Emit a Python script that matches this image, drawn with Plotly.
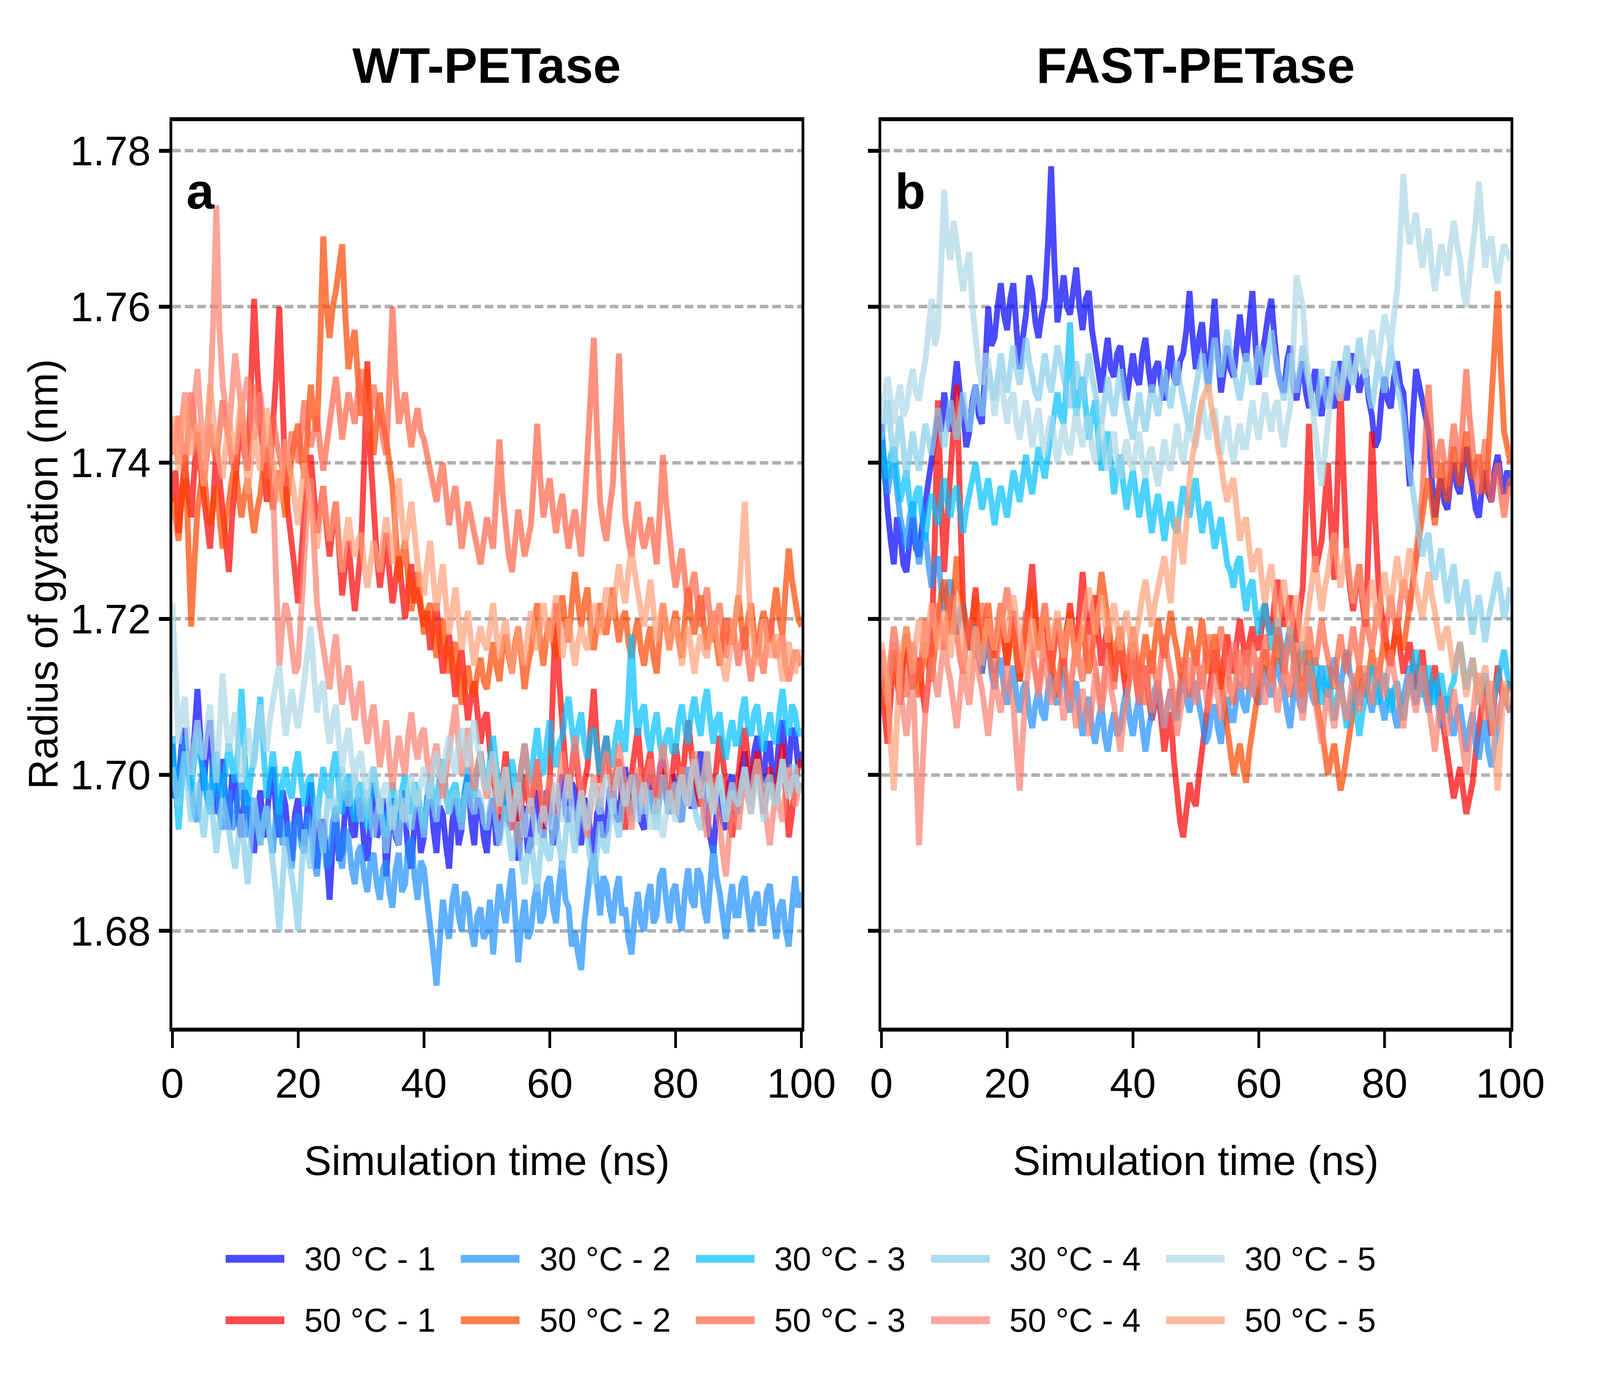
import math
import plotly.graph_objects as go

# Simulation time axis (ns), one sample every 0.5 ns
time_ns = [i * 0.5 for i in range(201)]

# WT-PETase, radius of gyration (nm)
wt_30_1 = [1.704, 1.697, 1.699, 1.704, 1.706, 1.700, 1.701, 1.705, 1.711, 1.703,
           1.698, 1.704, 1.707, 1.699, 1.695, 1.700, 1.702, 1.696, 1.693, 1.700,
           1.699, 1.694, 1.692, 1.698, 1.697, 1.693, 1.690, 1.695, 1.698, 1.692,
           1.694, 1.699, 1.701, 1.695, 1.692, 1.698, 1.696, 1.691, 1.689, 1.695,
           1.697, 1.692, 1.691, 1.696, 1.699, 1.693, 1.688, 1.694, 1.694, 1.690,
           1.684, 1.691, 1.695, 1.689, 1.690, 1.696, 1.698, 1.693, 1.692, 1.697,
           1.696, 1.691, 1.689, 1.694, 1.699, 1.692, 1.693, 1.697, 1.687, 1.693,
           1.697, 1.692, 1.691, 1.698, 1.695, 1.690, 1.688, 1.694, 1.696, 1.690,
           1.692, 1.697, 1.699, 1.693, 1.690, 1.696, 1.695, 1.691, 1.688, 1.694,
           1.697, 1.691, 1.693, 1.698, 1.700, 1.694, 1.691, 1.697, 1.696, 1.692,
           1.690, 1.695, 1.697, 1.691, 1.692, 1.697, 1.699, 1.694, 1.693, 1.697,
           1.689, 1.694, 1.696, 1.690, 1.691, 1.697, 1.698, 1.693, 1.692, 1.698,
           1.697, 1.691, 1.693, 1.698, 1.700, 1.695, 1.694, 1.699, 1.698, 1.693,
           1.691, 1.697, 1.696, 1.692, 1.690, 1.695, 1.697, 1.692, 1.693, 1.698,
           1.699, 1.695, 1.694, 1.699, 1.701, 1.696, 1.695, 1.700, 1.699, 1.694,
           1.693, 1.698, 1.700, 1.695, 1.696, 1.701, 1.702, 1.697, 1.695, 1.700,
           1.699, 1.695, 1.694, 1.699, 1.701, 1.696, 1.696, 1.701, 1.703, 1.697,
           1.695, 1.692, 1.690, 1.695, 1.698, 1.694, 1.693, 1.699, 1.700, 1.695,
           1.696, 1.701, 1.703, 1.699, 1.698, 1.703, 1.705, 1.700, 1.699, 1.704,
           1.704, 1.699, 1.700, 1.705, 1.707, 1.702, 1.701, 1.706, 1.705, 1.701,
           1.703]
wt_30_2 = [1.702, 1.698, 1.697, 1.703, 1.705, 1.700, 1.699, 1.695, 1.694, 1.699,
           1.701, 1.697, 1.696, 1.702, 1.700, 1.695, 1.693, 1.697, 1.698, 1.693,
           1.694, 1.698, 1.699, 1.695, 1.692, 1.696, 1.697, 1.693, 1.691, 1.695,
           1.696, 1.692, 1.690, 1.695, 1.697, 1.691, 1.692, 1.694, 1.688, 1.693,
           1.695, 1.691, 1.690, 1.695, 1.694, 1.689, 1.687, 1.692, 1.693, 1.688,
           1.689, 1.694, 1.696, 1.690, 1.688, 1.693, 1.692, 1.688, 1.686, 1.690,
           1.691, 1.687, 1.685, 1.689, 1.690, 1.686, 1.684, 1.688, 1.689, 1.685,
           1.683, 1.688, 1.690, 1.685, 1.686, 1.691, 1.692, 1.687, 1.684, 1.689,
           1.688, 1.684, 1.681, 1.677, 1.673, 1.680, 1.684, 1.681, 1.679, 1.684,
           1.686, 1.682, 1.680, 1.685, 1.684, 1.680, 1.678, 1.682, 1.683, 1.679,
           1.680, 1.684, 1.677, 1.682, 1.686, 1.683, 1.681, 1.685, 1.688, 1.682,
           1.676, 1.681, 1.684, 1.679, 1.680, 1.684, 1.686, 1.681, 1.682, 1.686,
           1.687, 1.683, 1.681, 1.686, 1.689, 1.684, 1.683, 1.678, 1.680, 1.677,
           1.675, 1.681, 1.685, 1.688, 1.690, 1.685, 1.682, 1.687, 1.686, 1.683,
           1.681, 1.685, 1.687, 1.682, 1.683, 1.679, 1.677, 1.682, 1.685, 1.681,
           1.680, 1.684, 1.686, 1.681, 1.682, 1.687, 1.688, 1.684, 1.681, 1.685,
           1.686, 1.682, 1.680, 1.685, 1.688, 1.684, 1.683, 1.688, 1.687, 1.683,
           1.681, 1.686, 1.691, 1.687, 1.685, 1.682, 1.679, 1.683, 1.686, 1.682,
           1.682, 1.686, 1.687, 1.683, 1.680, 1.684, 1.685, 1.681, 1.681, 1.685,
           1.686, 1.682, 1.679, 1.683, 1.684, 1.680, 1.678, 1.683, 1.687, 1.683,
           1.685]
wt_30_3 = [1.705, 1.699, 1.693, 1.699, 1.703, 1.700, 1.698, 1.702, 1.706, 1.702,
           1.700, 1.697, 1.695, 1.699, 1.703, 1.699, 1.697, 1.701, 1.704, 1.701,
           1.699, 1.704, 1.711, 1.703, 1.696, 1.700, 1.702, 1.706, 1.710, 1.703,
           1.697, 1.700, 1.703, 1.699, 1.695, 1.699, 1.701, 1.698, 1.697, 1.701,
           1.703, 1.699, 1.696, 1.699, 1.700, 1.696, 1.694, 1.698, 1.701, 1.698,
           1.697, 1.701, 1.703, 1.698, 1.695, 1.699, 1.700, 1.696, 1.694, 1.698,
           1.699, 1.696, 1.693, 1.697, 1.701, 1.698, 1.696, 1.694, 1.692, 1.696,
           1.699, 1.696, 1.694, 1.698, 1.700, 1.697, 1.695, 1.699, 1.698, 1.695,
           1.693, 1.697, 1.700, 1.697, 1.696, 1.700, 1.702, 1.698, 1.695, 1.698,
           1.699, 1.696, 1.694, 1.698, 1.701, 1.698, 1.697, 1.701, 1.703, 1.700,
           1.698, 1.702, 1.705, 1.701, 1.699, 1.697, 1.694, 1.698, 1.702, 1.699,
           1.697, 1.701, 1.704, 1.701, 1.699, 1.703, 1.706, 1.702, 1.700, 1.704,
           1.707, 1.703, 1.701, 1.704, 1.705, 1.708, 1.710, 1.706, 1.703, 1.706,
           1.708, 1.704, 1.702, 1.705, 1.706, 1.703, 1.700, 1.703, 1.705, 1.702,
           1.701, 1.705, 1.707, 1.704, 1.703, 1.710, 1.718, 1.709, 1.705, 1.708,
           1.709, 1.705, 1.703, 1.706, 1.708, 1.704, 1.702, 1.705, 1.706, 1.703,
           1.703, 1.707, 1.709, 1.706, 1.704, 1.708, 1.710, 1.707, 1.705, 1.709,
           1.711, 1.707, 1.704, 1.707, 1.708, 1.704, 1.702, 1.705, 1.707, 1.704,
           1.704, 1.708, 1.710, 1.706, 1.705, 1.708, 1.709, 1.705, 1.703, 1.706,
           1.708, 1.705, 1.704, 1.708, 1.711, 1.707, 1.705, 1.709, 1.708, 1.705,
           1.706]
wt_30_4 = [1.701, 1.698, 1.696, 1.700, 1.703, 1.698, 1.694, 1.697, 1.699, 1.695,
           1.692, 1.696, 1.698, 1.694, 1.690, 1.694, 1.697, 1.695, 1.693, 1.690,
           1.688, 1.692, 1.695, 1.690, 1.686, 1.692, 1.697, 1.694, 1.691, 1.694,
           1.696, 1.692, 1.689, 1.685, 1.680, 1.687, 1.692, 1.689, 1.687, 1.684,
           1.680, 1.687, 1.693, 1.690, 1.688, 1.693, 1.697, 1.693, 1.690, 1.695,
           1.699, 1.696, 1.694, 1.698, 1.701, 1.698, 1.696, 1.698, 1.700, 1.697,
           1.694, 1.697, 1.698, 1.695, 1.692, 1.695, 1.697, 1.693, 1.690, 1.694,
           1.696, 1.693, 1.691, 1.695, 1.697, 1.694, 1.693, 1.696, 1.698, 1.695,
           1.692, 1.696, 1.699, 1.696, 1.694, 1.698, 1.700, 1.697, 1.695, 1.697,
           1.698, 1.695, 1.693, 1.697, 1.699, 1.696, 1.695, 1.698, 1.697, 1.694,
           1.693, 1.696, 1.698, 1.694, 1.691, 1.694, 1.696, 1.692, 1.689, 1.692,
           1.694, 1.689, 1.686, 1.690, 1.692, 1.688, 1.685, 1.690, 1.693, 1.690,
           1.689, 1.693, 1.695, 1.691, 1.688, 1.692, 1.696, 1.693, 1.690, 1.694,
           1.697, 1.694, 1.692, 1.689, 1.686, 1.690, 1.694, 1.691, 1.690, 1.694,
           1.697, 1.694, 1.692, 1.696, 1.699, 1.696, 1.694, 1.698, 1.700, 1.697,
           1.695, 1.697, 1.698, 1.695, 1.693, 1.697, 1.700, 1.697, 1.695, 1.698,
           1.699, 1.696, 1.694, 1.698, 1.701, 1.698, 1.696, 1.694, 1.693, 1.696,
           1.699, 1.697, 1.695, 1.698, 1.700, 1.697, 1.694, 1.696, 1.698, 1.696,
           1.695, 1.698, 1.701, 1.698, 1.696, 1.700, 1.702, 1.699, 1.697, 1.699,
           1.700, 1.697, 1.696, 1.699, 1.702, 1.699, 1.698, 1.701, 1.701, 1.698,
           1.699]
wt_30_5 = [1.722, 1.711, 1.704, 1.708, 1.710, 1.704, 1.700, 1.704, 1.707, 1.703,
           1.702, 1.706, 1.709, 1.704, 1.699, 1.706, 1.713, 1.707, 1.703, 1.706,
           1.708, 1.703, 1.699, 1.703, 1.706, 1.703, 1.701, 1.705, 1.709, 1.705,
           1.703, 1.707, 1.710, 1.712, 1.714, 1.709, 1.705, 1.708, 1.711, 1.708,
           1.706, 1.709, 1.712, 1.716, 1.719, 1.713, 1.708, 1.711, 1.712, 1.707,
           1.704, 1.707, 1.709, 1.704, 1.701, 1.704, 1.706, 1.702, 1.699, 1.702,
           1.703, 1.699, 1.697, 1.700, 1.701, 1.698, 1.695, 1.698, 1.699, 1.696,
           1.693, 1.696, 1.698, 1.695, 1.694, 1.698, 1.700, 1.697, 1.696, 1.699,
           1.701, 1.698, 1.697, 1.701, 1.703, 1.700, 1.699, 1.703, 1.705, 1.702,
           1.700, 1.704, 1.706, 1.703, 1.701, 1.705, 1.707, 1.704, 1.702, 1.699,
           1.698, 1.701, 1.703, 1.699, 1.696, 1.699, 1.701, 1.697, 1.694, 1.697,
           1.699, 1.695, 1.692, 1.695, 1.697, 1.694, 1.691, 1.694, 1.696, 1.694,
           1.693, 1.697, 1.699, 1.696, 1.694, 1.698, 1.700, 1.696, 1.692, 1.695,
           1.698, 1.695, 1.693, 1.697, 1.699, 1.696, 1.695, 1.698, 1.700, 1.697,
           1.695, 1.699, 1.701, 1.698, 1.696, 1.698, 1.700, 1.697, 1.694, 1.697,
           1.699, 1.696, 1.693, 1.695, 1.697, 1.694, 1.692, 1.695, 1.698, 1.696,
           1.694, 1.698, 1.700, 1.697, 1.696, 1.700, 1.702, 1.699, 1.697, 1.700,
           1.703, 1.699, 1.695, 1.698, 1.700, 1.697, 1.694, 1.697, 1.699, 1.697,
           1.696, 1.699, 1.701, 1.698, 1.695, 1.698, 1.700, 1.697, 1.694, 1.697,
           1.699, 1.697, 1.696, 1.699, 1.702, 1.699, 1.697, 1.699, 1.700, 1.698,
           1.698]
wt_50_1 = [1.735, 1.739, 1.731, 1.736, 1.740, 1.736, 1.733, 1.739, 1.744, 1.739,
           1.736, 1.732, 1.729, 1.735, 1.742, 1.738, 1.734, 1.730, 1.726, 1.733,
           1.738, 1.742, 1.745, 1.741, 1.739, 1.749, 1.761, 1.752, 1.747, 1.741,
           1.735, 1.739, 1.744, 1.751, 1.760, 1.746, 1.737, 1.733, 1.730, 1.726,
           1.722, 1.729, 1.734, 1.738, 1.741, 1.736, 1.731, 1.734, 1.737, 1.732,
           1.728, 1.732, 1.735, 1.729, 1.723, 1.727, 1.730, 1.725, 1.721, 1.725,
           1.729, 1.740, 1.753, 1.741, 1.733, 1.728, 1.724, 1.728, 1.731, 1.726,
           1.722, 1.725, 1.728, 1.724, 1.720, 1.724, 1.727, 1.722, 1.724, 1.721,
           1.719, 1.721, 1.716, 1.719, 1.722, 1.717, 1.713, 1.716, 1.718, 1.714,
           1.710, 1.714, 1.716, 1.711, 1.707, 1.710, 1.712, 1.708, 1.704, 1.707,
           1.708, 1.703, 1.700, 1.697, 1.694, 1.699, 1.703, 1.699, 1.697, 1.694,
           1.691, 1.696, 1.700, 1.697, 1.695, 1.699, 1.702, 1.697, 1.693, 1.696,
           1.699, 1.711, 1.722, 1.712, 1.706, 1.701, 1.698, 1.701, 1.704, 1.700,
           1.696, 1.699, 1.701, 1.706, 1.711, 1.704, 1.699, 1.702, 1.705, 1.700,
           1.697, 1.700, 1.702, 1.697, 1.693, 1.697, 1.700, 1.703, 1.706, 1.701,
           1.698, 1.701, 1.703, 1.699, 1.695, 1.698, 1.701, 1.698, 1.696, 1.700,
           1.704, 1.701, 1.698, 1.703, 1.707, 1.703, 1.700, 1.697, 1.696, 1.700,
           1.703, 1.699, 1.697, 1.701, 1.705, 1.702, 1.699, 1.695, 1.692, 1.696,
           1.700, 1.704, 1.706, 1.702, 1.698, 1.701, 1.703, 1.699, 1.695, 1.698,
           1.701, 1.698, 1.697, 1.701, 1.704, 1.698, 1.692, 1.695, 1.699, 1.701,
           1.702]
wt_50_2 = [1.736, 1.733, 1.730, 1.736, 1.741, 1.731, 1.719, 1.727, 1.734, 1.737,
           1.739, 1.735, 1.732, 1.735, 1.737, 1.733, 1.729, 1.733, 1.735, 1.738,
           1.740, 1.736, 1.733, 1.736, 1.738, 1.734, 1.731, 1.734, 1.736, 1.740,
           1.742, 1.737, 1.734, 1.737, 1.739, 1.736, 1.733, 1.737, 1.741, 1.743,
           1.745, 1.741, 1.738, 1.744, 1.750, 1.746, 1.744, 1.755, 1.769, 1.760,
           1.756, 1.760, 1.762, 1.765, 1.768, 1.759, 1.752, 1.755, 1.757, 1.751,
           1.746, 1.749, 1.752, 1.746, 1.741, 1.745, 1.749, 1.745, 1.743, 1.740,
           1.737, 1.731, 1.725, 1.728, 1.730, 1.725, 1.721, 1.724, 1.726, 1.722,
           1.718, 1.721, 1.722, 1.718, 1.715, 1.718, 1.720, 1.716, 1.713, 1.716,
           1.717, 1.712, 1.709, 1.712, 1.714, 1.711, 1.710, 1.713, 1.715, 1.712,
           1.711, 1.714, 1.717, 1.714, 1.712, 1.716, 1.718, 1.715, 1.713, 1.717,
           1.719, 1.715, 1.711, 1.714, 1.716, 1.719, 1.722, 1.717, 1.714, 1.718,
           1.720, 1.717, 1.715, 1.720, 1.723, 1.719, 1.717, 1.722, 1.726, 1.722,
           1.719, 1.722, 1.724, 1.719, 1.716, 1.719, 1.722, 1.719, 1.718, 1.721,
           1.724, 1.720, 1.717, 1.720, 1.721, 1.717, 1.715, 1.718, 1.720, 1.716,
           1.714, 1.717, 1.719, 1.715, 1.713, 1.718, 1.722, 1.719, 1.716, 1.719,
           1.721, 1.717, 1.715, 1.720, 1.724, 1.720, 1.718, 1.721, 1.723, 1.719,
           1.716, 1.719, 1.721, 1.717, 1.714, 1.718, 1.720, 1.717, 1.717, 1.720,
           1.723, 1.719, 1.716, 1.720, 1.722, 1.718, 1.715, 1.719, 1.721, 1.718,
           1.717, 1.721, 1.724, 1.720, 1.718, 1.724, 1.729, 1.725, 1.722, 1.720,
           1.719]
wt_50_3 = [1.741, 1.744, 1.746, 1.742, 1.738, 1.744, 1.749, 1.745, 1.742, 1.739,
           1.737, 1.741, 1.745, 1.742, 1.740, 1.744, 1.748, 1.745, 1.743, 1.740,
           1.739, 1.743, 1.747, 1.744, 1.741, 1.746, 1.750, 1.746, 1.744, 1.741,
           1.738, 1.742, 1.746, 1.743, 1.741, 1.739, 1.737, 1.741, 1.744, 1.742,
           1.740, 1.744, 1.748, 1.744, 1.742, 1.744, 1.746, 1.742, 1.739, 1.742,
           1.745, 1.748, 1.751, 1.747, 1.743, 1.746, 1.749, 1.747, 1.745, 1.749,
           1.752, 1.748, 1.744, 1.747, 1.750, 1.747, 1.746, 1.743, 1.741, 1.750,
           1.760, 1.751, 1.745, 1.747, 1.749, 1.745, 1.742, 1.745, 1.747, 1.744,
           1.743, 1.741, 1.739, 1.737, 1.735, 1.738, 1.740, 1.736, 1.732, 1.735,
           1.737, 1.733, 1.729, 1.732, 1.735, 1.733, 1.731, 1.729, 1.727, 1.730,
           1.733, 1.731, 1.729, 1.736, 1.743, 1.736, 1.731, 1.728, 1.726, 1.730,
           1.734, 1.731, 1.728, 1.730, 1.732, 1.738, 1.745, 1.738, 1.733, 1.736,
           1.738, 1.734, 1.731, 1.734, 1.736, 1.732, 1.729, 1.732, 1.734, 1.731,
           1.728, 1.734, 1.741, 1.748, 1.756, 1.744, 1.735, 1.732, 1.730, 1.734,
           1.737, 1.745, 1.754, 1.742, 1.733, 1.730, 1.728, 1.732, 1.735, 1.731,
           1.729, 1.731, 1.733, 1.730, 1.727, 1.734, 1.741, 1.735, 1.730, 1.727,
           1.724, 1.727, 1.729, 1.725, 1.721, 1.724, 1.726, 1.722, 1.719, 1.722,
           1.724, 1.720, 1.717, 1.720, 1.722, 1.718, 1.715, 1.718, 1.720, 1.717,
           1.714, 1.717, 1.719, 1.715, 1.712, 1.715, 1.718, 1.715, 1.713, 1.717,
           1.720, 1.717, 1.715, 1.717, 1.718, 1.714, 1.712, 1.714, 1.716, 1.715,
           1.714]
wt_50_4 = [1.745, 1.742, 1.740, 1.745, 1.749, 1.746, 1.743, 1.748, 1.752, 1.746,
           1.741, 1.744, 1.748, 1.758, 1.773, 1.757, 1.750, 1.747, 1.744, 1.749,
           1.754, 1.750, 1.747, 1.749, 1.751, 1.746, 1.743, 1.746, 1.749, 1.744,
           1.740, 1.742, 1.737, 1.725, 1.714, 1.719, 1.722, 1.720, 1.717, 1.713,
           1.714, 1.722, 1.729, 1.735, 1.738, 1.728, 1.722, 1.719, 1.716, 1.713,
           1.711, 1.715, 1.718, 1.713, 1.709, 1.712, 1.714, 1.710, 1.707, 1.710,
           1.712, 1.707, 1.704, 1.707, 1.709, 1.705, 1.701, 1.704, 1.707, 1.702,
           1.698, 1.702, 1.705, 1.702, 1.700, 1.705, 1.708, 1.704, 1.702, 1.705,
           1.706, 1.702, 1.699, 1.702, 1.704, 1.700, 1.697, 1.700, 1.703, 1.706,
           1.709, 1.704, 1.700, 1.703, 1.706, 1.701, 1.698, 1.701, 1.703, 1.699,
           1.697, 1.700, 1.702, 1.698, 1.695, 1.698, 1.701, 1.697, 1.693, 1.696,
           1.699, 1.702, 1.704, 1.700, 1.696, 1.699, 1.702, 1.698, 1.694, 1.697,
           1.700, 1.697, 1.695, 1.699, 1.703, 1.700, 1.697, 1.701, 1.705, 1.701,
           1.698, 1.695, 1.692, 1.696, 1.700, 1.698, 1.696, 1.700, 1.703, 1.700,
           1.698, 1.701, 1.704, 1.701, 1.699, 1.696, 1.693, 1.697, 1.701, 1.698,
           1.696, 1.699, 1.702, 1.699, 1.697, 1.701, 1.704, 1.701, 1.699, 1.697,
           1.695, 1.698, 1.701, 1.698, 1.696, 1.700, 1.703, 1.700, 1.698, 1.695,
           1.692, 1.696, 1.699, 1.696, 1.694, 1.690, 1.687, 1.692, 1.697, 1.695,
           1.693, 1.697, 1.700, 1.697, 1.695, 1.699, 1.702, 1.699, 1.697, 1.694,
           1.691, 1.695, 1.698, 1.696, 1.694, 1.698, 1.701, 1.698, 1.696, 1.698,
           1.699]
wt_50_5 = [1.746, 1.742, 1.739, 1.744, 1.748, 1.744, 1.741, 1.743, 1.745, 1.741,
           1.737, 1.744, 1.750, 1.746, 1.742, 1.740, 1.738, 1.742, 1.746, 1.743,
           1.741, 1.745, 1.749, 1.742, 1.736, 1.740, 1.744, 1.741, 1.739, 1.743,
           1.747, 1.743, 1.740, 1.737, 1.735, 1.739, 1.743, 1.740, 1.738, 1.735,
           1.732, 1.736, 1.740, 1.737, 1.734, 1.731, 1.729, 1.733, 1.737, 1.733,
           1.730, 1.733, 1.735, 1.730, 1.726, 1.730, 1.733, 1.730, 1.728, 1.730,
           1.731, 1.727, 1.724, 1.727, 1.730, 1.728, 1.726, 1.730, 1.733, 1.730,
           1.727, 1.733, 1.738, 1.733, 1.729, 1.732, 1.735, 1.731, 1.727, 1.725,
           1.723, 1.727, 1.730, 1.725, 1.721, 1.724, 1.727, 1.722, 1.718, 1.721,
           1.724, 1.720, 1.716, 1.719, 1.721, 1.717, 1.714, 1.717, 1.719, 1.717,
           1.716, 1.719, 1.722, 1.718, 1.715, 1.718, 1.720, 1.716, 1.713, 1.716,
           1.719, 1.716, 1.714, 1.718, 1.721, 1.718, 1.716, 1.719, 1.722, 1.719,
           1.717, 1.720, 1.723, 1.719, 1.715, 1.718, 1.720, 1.717, 1.714, 1.717,
           1.719, 1.717, 1.716, 1.719, 1.722, 1.720, 1.718, 1.721, 1.724, 1.722,
           1.720, 1.724, 1.727, 1.724, 1.722, 1.726, 1.729, 1.726, 1.723, 1.721,
           1.719, 1.722, 1.725, 1.721, 1.717, 1.720, 1.722, 1.719, 1.716, 1.718,
           1.720, 1.717, 1.714, 1.717, 1.719, 1.716, 1.713, 1.716, 1.718, 1.716,
           1.715, 1.718, 1.721, 1.718, 1.716, 1.714, 1.712, 1.715, 1.718, 1.720,
           1.722, 1.728, 1.735, 1.726, 1.719, 1.716, 1.714, 1.717, 1.720, 1.717,
           1.715, 1.717, 1.718, 1.715, 1.712, 1.715, 1.717, 1.714, 1.713, 1.716,
           1.715]

# FAST-PETase, radius of gyration (nm)
fast_30_1 = [1.745, 1.739, 1.734, 1.730, 1.727, 1.733, 1.731, 1.727, 1.726, 1.730,
             1.733, 1.729, 1.728, 1.732, 1.735, 1.738, 1.741, 1.744, 1.746, 1.744,
             1.749, 1.746, 1.744, 1.749, 1.753, 1.749, 1.747, 1.742, 1.744, 1.748,
             1.750, 1.746, 1.745, 1.752, 1.760, 1.755, 1.756, 1.760, 1.763, 1.759,
             1.757, 1.761, 1.763, 1.757, 1.752, 1.756, 1.759, 1.764, 1.762, 1.758,
             1.756, 1.759, 1.761, 1.768, 1.778, 1.766, 1.758, 1.761, 1.764, 1.760,
             1.759, 1.762, 1.765, 1.760, 1.757, 1.761, 1.762, 1.757, 1.754, 1.751,
             1.749, 1.753, 1.756, 1.752, 1.751, 1.754, 1.755, 1.751, 1.748, 1.751,
             1.754, 1.751, 1.750, 1.754, 1.756, 1.752, 1.749, 1.752, 1.753, 1.750,
             1.748, 1.752, 1.755, 1.751, 1.750, 1.753, 1.754, 1.757, 1.762, 1.756,
             1.752, 1.756, 1.758, 1.753, 1.750, 1.756, 1.761, 1.754, 1.749, 1.752,
             1.755, 1.752, 1.751, 1.755, 1.759, 1.755, 1.753, 1.758, 1.762, 1.755,
             1.750, 1.754, 1.756, 1.759, 1.761, 1.756, 1.752, 1.750, 1.749, 1.753,
             1.755, 1.750, 1.748, 1.751, 1.753, 1.749, 1.747, 1.750, 1.752, 1.748,
             1.746, 1.749, 1.751, 1.748, 1.747, 1.751, 1.753, 1.750, 1.748, 1.752,
             1.754, 1.751, 1.749, 1.751, 1.752, 1.748, 1.746, 1.742, 1.743, 1.748,
             1.751, 1.748, 1.747, 1.751, 1.753, 1.750, 1.749, 1.743, 1.737, 1.746,
             1.752, 1.750, 1.748, 1.746, 1.744, 1.738, 1.733, 1.736, 1.738, 1.735,
             1.734, 1.738, 1.740, 1.737, 1.736, 1.740, 1.742, 1.739, 1.737, 1.734,
             1.733, 1.737, 1.739, 1.736, 1.735, 1.739, 1.741, 1.738, 1.736, 1.739,
             1.737]
fast_30_2 = [1.742, 1.738, 1.736, 1.739, 1.740, 1.736, 1.733, 1.731, 1.729, 1.733,
             1.735, 1.730, 1.727, 1.730, 1.731, 1.727, 1.724, 1.727, 1.728, 1.724,
             1.721, 1.724, 1.725, 1.721, 1.718, 1.721, 1.722, 1.718, 1.716, 1.719,
             1.719, 1.715, 1.713, 1.716, 1.717, 1.713, 1.711, 1.714, 1.715, 1.711,
             1.709, 1.712, 1.714, 1.710, 1.708, 1.711, 1.712, 1.708, 1.706, 1.709,
             1.711, 1.708, 1.707, 1.711, 1.713, 1.710, 1.709, 1.712, 1.714, 1.710,
             1.708, 1.711, 1.712, 1.708, 1.705, 1.708, 1.710, 1.706, 1.704, 1.707,
             1.709, 1.705, 1.703, 1.706, 1.708, 1.705, 1.706, 1.709, 1.711, 1.707,
             1.705, 1.708, 1.710, 1.706, 1.703, 1.706, 1.708, 1.711, 1.712, 1.708,
             1.706, 1.709, 1.711, 1.708, 1.707, 1.711, 1.713, 1.710, 1.708, 1.711,
             1.712, 1.709, 1.707, 1.704, 1.705, 1.708, 1.709, 1.706, 1.704, 1.708,
             1.710, 1.707, 1.707, 1.710, 1.712, 1.709, 1.708, 1.711, 1.713, 1.710,
             1.709, 1.712, 1.714, 1.711, 1.710, 1.713, 1.715, 1.712, 1.711, 1.708,
             1.706, 1.710, 1.712, 1.709, 1.708, 1.711, 1.713, 1.710, 1.709, 1.712,
             1.714, 1.711, 1.710, 1.713, 1.715, 1.712, 1.711, 1.714, 1.716, 1.713,
             1.712, 1.710, 1.709, 1.712, 1.713, 1.710, 1.708, 1.711, 1.712, 1.709,
             1.707, 1.710, 1.711, 1.708, 1.706, 1.709, 1.710, 1.712, 1.714, 1.711,
             1.709, 1.712, 1.713, 1.710, 1.708, 1.711, 1.712, 1.709, 1.706, 1.709,
             1.710, 1.707, 1.705, 1.708, 1.709, 1.706, 1.703, 1.706, 1.708, 1.704,
             1.702, 1.705, 1.707, 1.703, 1.701, 1.704, 1.706, 1.709, 1.711, 1.709,
             1.708]
fast_30_3 = [1.744, 1.740, 1.738, 1.741, 1.742, 1.738, 1.735, 1.737, 1.739, 1.735,
             1.733, 1.736, 1.737, 1.733, 1.730, 1.734, 1.736, 1.734, 1.732, 1.735,
             1.738, 1.735, 1.733, 1.736, 1.737, 1.734, 1.731, 1.734, 1.736, 1.738,
             1.740, 1.737, 1.734, 1.736, 1.738, 1.735, 1.732, 1.735, 1.737, 1.735,
             1.733, 1.736, 1.739, 1.737, 1.735, 1.738, 1.741, 1.738, 1.736, 1.739,
             1.742, 1.740, 1.738, 1.741, 1.744, 1.747, 1.749, 1.746, 1.745, 1.751,
             1.758, 1.750, 1.746, 1.749, 1.751, 1.747, 1.743, 1.746, 1.748, 1.743,
             1.739, 1.742, 1.744, 1.740, 1.736, 1.739, 1.741, 1.737, 1.734, 1.737,
             1.739, 1.736, 1.733, 1.736, 1.738, 1.734, 1.731, 1.734, 1.736, 1.733,
             1.730, 1.733, 1.735, 1.732, 1.731, 1.734, 1.737, 1.735, 1.733, 1.736,
             1.738, 1.734, 1.731, 1.734, 1.735, 1.732, 1.729, 1.731, 1.733, 1.730,
             1.727, 1.726, 1.724, 1.727, 1.728, 1.724, 1.721, 1.724, 1.725, 1.721,
             1.718, 1.721, 1.722, 1.719, 1.716, 1.719, 1.720, 1.717, 1.714, 1.717,
             1.719, 1.715, 1.712, 1.715, 1.717, 1.714, 1.711, 1.714, 1.715, 1.712,
             1.709, 1.712, 1.714, 1.710, 1.707, 1.710, 1.712, 1.709, 1.706, 1.709,
             1.711, 1.708, 1.705, 1.708, 1.710, 1.712, 1.714, 1.711, 1.709, 1.712,
             1.713, 1.710, 1.708, 1.711, 1.712, 1.709, 1.707, 1.710, 1.711, 1.714,
             1.716, 1.713, 1.710, 1.712, 1.714, 1.711, 1.709, 1.712, 1.713, 1.710,
             1.708, 1.711, 1.712, 1.715, 1.717, 1.714, 1.711, 1.713, 1.715, 1.712,
             1.709, 1.712, 1.713, 1.710, 1.707, 1.710, 1.712, 1.714, 1.716, 1.713,
             1.711]
fast_30_4 = [1.743, 1.746, 1.748, 1.744, 1.740, 1.743, 1.746, 1.742, 1.738, 1.741,
             1.744, 1.741, 1.739, 1.742, 1.745, 1.743, 1.741, 1.744, 1.747, 1.744,
             1.742, 1.745, 1.748, 1.745, 1.743, 1.746, 1.749, 1.746, 1.744, 1.747,
             1.750, 1.748, 1.746, 1.749, 1.752, 1.750, 1.748, 1.751, 1.754, 1.751,
             1.749, 1.752, 1.755, 1.752, 1.750, 1.753, 1.756, 1.753, 1.751, 1.749,
             1.748, 1.751, 1.754, 1.751, 1.749, 1.752, 1.755, 1.753, 1.751, 1.749,
             1.747, 1.750, 1.753, 1.750, 1.748, 1.751, 1.754, 1.751, 1.749, 1.747,
             1.745, 1.748, 1.751, 1.748, 1.746, 1.749, 1.752, 1.749, 1.747, 1.745,
             1.743, 1.746, 1.749, 1.746, 1.744, 1.747, 1.750, 1.748, 1.746, 1.749,
             1.752, 1.749, 1.747, 1.750, 1.753, 1.750, 1.748, 1.746, 1.744, 1.747,
             1.750, 1.752, 1.754, 1.751, 1.749, 1.753, 1.756, 1.753, 1.751, 1.754,
             1.757, 1.754, 1.752, 1.750, 1.748, 1.751, 1.754, 1.752, 1.750, 1.752,
             1.755, 1.753, 1.751, 1.754, 1.757, 1.754, 1.752, 1.750, 1.748, 1.751,
             1.754, 1.751, 1.749, 1.752, 1.755, 1.752, 1.750, 1.748, 1.746, 1.749,
             1.752, 1.749, 1.747, 1.750, 1.753, 1.751, 1.749, 1.752, 1.755, 1.752,
             1.750, 1.753, 1.756, 1.753, 1.751, 1.749, 1.747, 1.750, 1.753, 1.751,
             1.749, 1.752, 1.755, 1.752, 1.750, 1.748, 1.746, 1.742, 1.739, 1.736,
             1.733, 1.730, 1.728, 1.730, 1.731, 1.727, 1.725, 1.727, 1.729, 1.725,
             1.722, 1.725, 1.727, 1.723, 1.720, 1.723, 1.725, 1.721, 1.718, 1.721,
             1.723, 1.720, 1.717, 1.720, 1.722, 1.724, 1.726, 1.723, 1.720, 1.722,
             1.724]
fast_30_5 = [1.746, 1.749, 1.751, 1.748, 1.745, 1.748, 1.750, 1.746, 1.747, 1.750,
             1.752, 1.749, 1.748, 1.751, 1.753, 1.757, 1.761, 1.755, 1.757, 1.765,
             1.775, 1.768, 1.766, 1.771, 1.768, 1.764, 1.762, 1.765, 1.767, 1.760,
             1.756, 1.752, 1.750, 1.754, 1.753, 1.749, 1.746, 1.749, 1.751, 1.748,
             1.745, 1.748, 1.749, 1.745, 1.743, 1.746, 1.748, 1.745, 1.742, 1.745,
             1.747, 1.743, 1.741, 1.744, 1.746, 1.743, 1.740, 1.743, 1.745, 1.742,
             1.741, 1.744, 1.747, 1.744, 1.742, 1.745, 1.746, 1.742, 1.740, 1.743,
             1.745, 1.741, 1.739, 1.742, 1.744, 1.740, 1.738, 1.741, 1.743, 1.740,
             1.739, 1.742, 1.744, 1.740, 1.738, 1.741, 1.742, 1.739, 1.737, 1.740,
             1.743, 1.740, 1.739, 1.742, 1.745, 1.742, 1.740, 1.743, 1.746, 1.743,
             1.742, 1.745, 1.748, 1.745, 1.743, 1.746, 1.747, 1.743, 1.741, 1.744,
             1.746, 1.742, 1.740, 1.743, 1.745, 1.742, 1.742, 1.745, 1.748, 1.745,
             1.743, 1.746, 1.749, 1.746, 1.744, 1.747, 1.748, 1.744, 1.742, 1.745,
             1.747, 1.755, 1.764, 1.762, 1.760, 1.754, 1.750, 1.747, 1.744, 1.740,
             1.737, 1.741, 1.746, 1.749, 1.751, 1.749, 1.748, 1.751, 1.754, 1.751,
             1.750, 1.753, 1.755, 1.752, 1.751, 1.754, 1.757, 1.754, 1.753, 1.756,
             1.759, 1.757, 1.755, 1.759, 1.762, 1.769, 1.777, 1.771, 1.768, 1.770,
             1.772, 1.768, 1.765, 1.768, 1.770, 1.765, 1.762, 1.765, 1.768, 1.766,
             1.764, 1.768, 1.771, 1.768, 1.766, 1.762, 1.760, 1.764, 1.767, 1.771,
             1.776, 1.770, 1.765, 1.768, 1.769, 1.765, 1.763, 1.766, 1.768, 1.767,
             1.766]
fast_50_1 = [1.712, 1.708, 1.704, 1.710, 1.716, 1.712, 1.709, 1.714, 1.718, 1.714,
             1.711, 1.713, 1.715, 1.711, 1.708, 1.712, 1.717, 1.730, 1.748, 1.735,
             1.726, 1.733, 1.738, 1.744, 1.750, 1.735, 1.722, 1.719, 1.716, 1.720,
             1.724, 1.718, 1.713, 1.717, 1.720, 1.717, 1.715, 1.719, 1.722, 1.718,
             1.714, 1.718, 1.721, 1.716, 1.712, 1.715, 1.719, 1.723, 1.727, 1.721,
             1.716, 1.719, 1.722, 1.717, 1.713, 1.717, 1.720, 1.717, 1.714, 1.718,
             1.722, 1.718, 1.715, 1.721, 1.726, 1.721, 1.718, 1.721, 1.723, 1.718,
             1.714, 1.717, 1.719, 1.715, 1.712, 1.715, 1.717, 1.713, 1.710, 1.713,
             1.716, 1.712, 1.709, 1.712, 1.714, 1.710, 1.707, 1.709, 1.711, 1.707,
             1.703, 1.706, 1.708, 1.702, 1.697, 1.694, 1.692, 1.696, 1.699, 1.697,
             1.696, 1.700, 1.703, 1.706, 1.709, 1.713, 1.716, 1.713, 1.711, 1.715,
             1.718, 1.715, 1.713, 1.717, 1.720, 1.717, 1.714, 1.717, 1.719, 1.717,
             1.716, 1.719, 1.722, 1.719, 1.718, 1.722, 1.725, 1.722, 1.719, 1.721,
             1.723, 1.719, 1.717, 1.721, 1.724, 1.734, 1.745, 1.735, 1.726, 1.728,
             1.730, 1.735, 1.740, 1.732, 1.725, 1.737, 1.750, 1.738, 1.728, 1.724,
             1.721, 1.724, 1.727, 1.722, 1.719, 1.731, 1.744, 1.733, 1.725, 1.721,
             1.718, 1.716, 1.714, 1.717, 1.720, 1.716, 1.713, 1.715, 1.717, 1.714,
             1.711, 1.714, 1.716, 1.712, 1.709, 1.712, 1.714, 1.711, 1.708, 1.705,
             1.703, 1.700, 1.697, 1.699, 1.701, 1.698, 1.695, 1.697, 1.699, 1.703,
             1.706, 1.709, 1.712, 1.708, 1.705, 1.710, 1.714, 1.711, 1.709, 1.711,
             1.712]
fast_50_2 = [1.713, 1.710, 1.708, 1.712, 1.716, 1.713, 1.711, 1.715, 1.719, 1.716,
             1.714, 1.712, 1.710, 1.714, 1.717, 1.714, 1.712, 1.716, 1.720, 1.723,
             1.725, 1.721, 1.718, 1.723, 1.728, 1.724, 1.721, 1.718, 1.716, 1.720,
             1.723, 1.719, 1.717, 1.720, 1.722, 1.718, 1.715, 1.718, 1.720, 1.717,
             1.714, 1.717, 1.719, 1.715, 1.712, 1.715, 1.718, 1.721, 1.724, 1.719,
             1.716, 1.719, 1.721, 1.718, 1.715, 1.712, 1.710, 1.714, 1.717, 1.719,
             1.721, 1.717, 1.714, 1.717, 1.719, 1.716, 1.713, 1.716, 1.718, 1.722,
             1.726, 1.723, 1.720, 1.717, 1.714, 1.717, 1.719, 1.715, 1.712, 1.715,
             1.717, 1.714, 1.711, 1.715, 1.718, 1.715, 1.713, 1.717, 1.720, 1.717,
             1.715, 1.718, 1.721, 1.718, 1.716, 1.713, 1.712, 1.716, 1.719, 1.716,
             1.714, 1.717, 1.720, 1.716, 1.713, 1.716, 1.718, 1.715, 1.712, 1.709,
             1.706, 1.703, 1.700, 1.702, 1.704, 1.701, 1.699, 1.703, 1.706, 1.709,
             1.711, 1.714, 1.716, 1.713, 1.712, 1.715, 1.718, 1.715, 1.713, 1.716,
             1.719, 1.716, 1.714, 1.712, 1.710, 1.713, 1.716, 1.713, 1.711, 1.708,
             1.706, 1.703, 1.700, 1.702, 1.704, 1.701, 1.698, 1.700, 1.703, 1.706,
             1.709, 1.712, 1.714, 1.711, 1.710, 1.713, 1.716, 1.713, 1.712, 1.715,
             1.718, 1.715, 1.714, 1.717, 1.720, 1.717, 1.716, 1.719, 1.722, 1.725,
             1.727, 1.730, 1.733, 1.736, 1.738, 1.735, 1.732, 1.736, 1.740, 1.737,
             1.735, 1.739, 1.742, 1.739, 1.737, 1.741, 1.744, 1.740, 1.738, 1.740,
             1.741, 1.738, 1.736, 1.741, 1.748, 1.755, 1.762, 1.752, 1.744, 1.742,
             1.740]
fast_50_3 = [1.716, 1.713, 1.711, 1.715, 1.719, 1.716, 1.714, 1.712, 1.710, 1.714,
             1.717, 1.714, 1.712, 1.716, 1.720, 1.717, 1.715, 1.718, 1.722, 1.719,
             1.716, 1.720, 1.723, 1.720, 1.718, 1.715, 1.713, 1.717, 1.720, 1.717,
             1.715, 1.719, 1.722, 1.719, 1.717, 1.714, 1.712, 1.716, 1.719, 1.722,
             1.724, 1.721, 1.718, 1.715, 1.713, 1.717, 1.721, 1.718, 1.716, 1.713,
             1.711, 1.714, 1.718, 1.715, 1.713, 1.716, 1.720, 1.717, 1.715, 1.712,
             1.710, 1.714, 1.717, 1.714, 1.712, 1.716, 1.719, 1.716, 1.714, 1.711,
             1.709, 1.713, 1.716, 1.713, 1.711, 1.715, 1.718, 1.715, 1.713, 1.716,
             1.719, 1.716, 1.714, 1.711, 1.709, 1.713, 1.716, 1.713, 1.711, 1.715,
             1.718, 1.715, 1.713, 1.710, 1.708, 1.712, 1.715, 1.712, 1.710, 1.713,
             1.716, 1.713, 1.711, 1.715, 1.718, 1.715, 1.713, 1.716, 1.719, 1.716,
             1.714, 1.711, 1.709, 1.713, 1.716, 1.713, 1.711, 1.714, 1.717, 1.714,
             1.712, 1.715, 1.718, 1.715, 1.713, 1.716, 1.719, 1.717, 1.715, 1.712,
             1.710, 1.714, 1.717, 1.714, 1.712, 1.716, 1.719, 1.716, 1.714, 1.717,
             1.720, 1.717, 1.715, 1.713, 1.711, 1.715, 1.718, 1.715, 1.713, 1.716,
             1.719, 1.716, 1.714, 1.718, 1.721, 1.718, 1.716, 1.719, 1.722, 1.719,
             1.717, 1.720, 1.723, 1.720, 1.718, 1.722, 1.725, 1.723, 1.721, 1.725,
             1.728, 1.732, 1.736, 1.743, 1.750, 1.743, 1.738, 1.741, 1.743, 1.740,
             1.737, 1.741, 1.745, 1.742, 1.740, 1.746, 1.752, 1.746, 1.741, 1.738,
             1.736, 1.740, 1.743, 1.739, 1.735, 1.738, 1.740, 1.736, 1.733, 1.736,
             1.738]
fast_50_4 = [1.714, 1.711, 1.709, 1.713, 1.717, 1.714, 1.711, 1.708, 1.705, 1.709,
             1.713, 1.702, 1.691, 1.700, 1.708, 1.712, 1.715, 1.712, 1.710, 1.714,
             1.717, 1.714, 1.712, 1.709, 1.706, 1.710, 1.714, 1.711, 1.709, 1.713,
             1.716, 1.713, 1.711, 1.708, 1.705, 1.709, 1.713, 1.710, 1.708, 1.711,
             1.714, 1.711, 1.709, 1.703, 1.698, 1.705, 1.711, 1.714, 1.716, 1.713,
             1.710, 1.713, 1.715, 1.712, 1.709, 1.711, 1.713, 1.710, 1.707, 1.710,
             1.712, 1.709, 1.706, 1.709, 1.711, 1.708, 1.705, 1.709, 1.713, 1.710,
             1.708, 1.711, 1.714, 1.711, 1.709, 1.706, 1.703, 1.707, 1.710, 1.713,
             1.715, 1.712, 1.709, 1.712, 1.714, 1.711, 1.708, 1.710, 1.712, 1.709,
             1.706, 1.709, 1.711, 1.708, 1.705, 1.708, 1.710, 1.713, 1.715, 1.712,
             1.709, 1.712, 1.714, 1.711, 1.708, 1.711, 1.713, 1.710, 1.707, 1.710,
             1.712, 1.715, 1.717, 1.714, 1.711, 1.714, 1.716, 1.713, 1.710, 1.713,
             1.715, 1.712, 1.709, 1.712, 1.714, 1.711, 1.708, 1.711, 1.713, 1.716,
             1.718, 1.715, 1.712, 1.709, 1.707, 1.711, 1.714, 1.712, 1.709, 1.706,
             1.704, 1.708, 1.711, 1.708, 1.706, 1.709, 1.712, 1.709, 1.707, 1.710,
             1.713, 1.710, 1.708, 1.711, 1.714, 1.711, 1.709, 1.712, 1.715, 1.712,
             1.710, 1.713, 1.716, 1.713, 1.711, 1.708, 1.706, 1.710, 1.713, 1.710,
             1.708, 1.711, 1.714, 1.711, 1.709, 1.706, 1.703, 1.707, 1.710, 1.707,
             1.705, 1.708, 1.711, 1.708, 1.706, 1.703, 1.700, 1.704, 1.708, 1.711,
             1.713, 1.710, 1.707, 1.710, 1.712, 1.709, 1.706, 1.709, 1.711, 1.709,
             1.708]
fast_50_5 = [1.717, 1.714, 1.712, 1.704, 1.698, 1.707, 1.714, 1.717, 1.719, 1.716,
             1.713, 1.717, 1.720, 1.717, 1.715, 1.719, 1.722, 1.719, 1.716, 1.719,
             1.721, 1.718, 1.715, 1.719, 1.723, 1.720, 1.717, 1.714, 1.712, 1.716,
             1.719, 1.716, 1.714, 1.718, 1.720, 1.718, 1.716, 1.719, 1.722, 1.719,
             1.717, 1.721, 1.723, 1.720, 1.718, 1.715, 1.713, 1.717, 1.720, 1.717,
             1.715, 1.719, 1.722, 1.719, 1.716, 1.719, 1.721, 1.718, 1.715, 1.718,
             1.720, 1.717, 1.714, 1.717, 1.719, 1.722, 1.724, 1.721, 1.718, 1.721,
             1.723, 1.720, 1.717, 1.720, 1.722, 1.719, 1.716, 1.719, 1.721, 1.718,
             1.715, 1.718, 1.720, 1.723, 1.725, 1.722, 1.719, 1.722, 1.724, 1.726,
             1.728, 1.725, 1.722, 1.728, 1.733, 1.730, 1.727, 1.732, 1.738, 1.741,
             1.743, 1.746, 1.748, 1.749, 1.750, 1.747, 1.745, 1.742, 1.740, 1.737,
             1.735, 1.737, 1.738, 1.734, 1.730, 1.732, 1.733, 1.729, 1.726, 1.728,
             1.729, 1.725, 1.722, 1.725, 1.727, 1.723, 1.719, 1.722, 1.725, 1.721,
             1.718, 1.721, 1.723, 1.719, 1.716, 1.719, 1.722, 1.725, 1.728, 1.724,
             1.721, 1.724, 1.726, 1.729, 1.731, 1.727, 1.724, 1.727, 1.729, 1.725,
             1.722, 1.725, 1.727, 1.723, 1.720, 1.723, 1.725, 1.722, 1.719, 1.723,
             1.726, 1.723, 1.721, 1.725, 1.728, 1.725, 1.723, 1.726, 1.729, 1.726,
             1.724, 1.722, 1.720, 1.723, 1.726, 1.723, 1.721, 1.718, 1.716, 1.718,
             1.719, 1.716, 1.713, 1.715, 1.717, 1.713, 1.710, 1.713, 1.715, 1.712,
             1.709, 1.712, 1.714, 1.711, 1.708, 1.703, 1.698, 1.705, 1.712, 1.710,
             1.709]

labels_30 = ['30 °C - 1', '30 °C - 2', '30 °C - 3', '30 °C - 4', '30 °C - 5']
labels_50 = ['50 °C - 1', '50 °C - 2', '50 °C - 3', '50 °C - 4', '50 °C - 5']
colors_30 = ['blue', 'dodgerblue', 'deepskyblue', 'skyblue', 'lightblue']
colors_50 = ['red', 'orangered', 'tomato', 'salmon', 'lightsalmon']

wt_30 = [wt_30_1, wt_30_2, wt_30_3, wt_30_4, wt_30_5]
wt_50 = [wt_50_1, wt_50_2, wt_50_3, wt_50_4, wt_50_5]
fast_30 = [fast_30_1, fast_30_2, fast_30_3, fast_30_4, fast_30_5]
fast_50 = [fast_50_1, fast_50_2, fast_50_3, fast_50_4, fast_50_5]

x_ticks = [0, 20, 40, 60, 80, 100]
y_ticks = [1.68, 1.70, 1.72, 1.74, 1.76, 1.78]
y_tick_text = ['1.68', '1.70', '1.72', '1.74', '1.76', '1.78']

# layout medido na imagem original (6413 x 3547); a janela real tem 4096 px de largura
REF_W, REF_H = 6413, 3547
W, H = 4080, 3531
S = 0.76  # escala das fontes
FONT = 'Liberation Sans, Arial, sans-serif'
ALPHA = 0.7
LW = 15


def px(v):
    return v / REF_W


def py(v):
    return 1 - v / REF_H


for s in wt_30 + wt_50 + fast_30 + fast_50:
    if len(s) != len(time_ns):
        print('tamanho diferente:', len(s))

fig = go.Figure()

# ordem de desenho: 30-1, 50-1, 30-2, 50-2, ...
for panel, (d30, d50) in enumerate([(wt_30, wt_50), (fast_30, fast_50)]):
    xa = 'x' if panel == 0 else 'x2'
    ya = 'y' if panel == 0 else 'y2'
    for i in range(5):
        for vals, col, lab in [(d30[i], colors_30[i], labels_30[i]),
                               (d50[i], colors_50[i], labels_50[i])]:
            fig.add_trace(go.Scatter(
                x=time_ns, y=vals, mode='lines', name=lab,
                line=dict(color=col, width=LW), opacity=ALPHA,
                showlegend=False, xaxis=xa, yaxis=ya,
            ))

tick_font = dict(family=FONT, size=round(140 * S), color='black')
x_common = dict(
    showline=True, mirror=True, linecolor='black', linewidth=10,
    ticks='outside', ticklen=42, tickwidth=7, tickcolor='black',
    tickfont=tick_font, zeroline=False,
    range=[0, 100], tickvals=x_ticks, showgrid=False,
)
y_common = dict(
    showline=True, mirror=True, linecolor='black', linewidth=7,
    ticks='outside', ticklen=27, tickwidth=10, tickcolor='black',
    tickfont=tick_font, zeroline=False,
    range=[1.6676, 1.7838], tickvals=y_ticks, ticktext=y_tick_text,
    showgrid=True, gridcolor='#b0b0b0', gridwidth=9, griddash='22px,10px',
)

fig.update_layout(
    width=W, height=H, autosize=False,
    margin=dict(l=0, r=0, t=0, b=0),
    paper_bgcolor='white', plot_bgcolor='white',
    showlegend=False,
    xaxis=dict(x_common, domain=[px(654), px(3260)], anchor='y'),
    xaxis2=dict(x_common, domain=[px(3591), px(6197)], anchor='y2'),
    yaxis=dict(y_common, domain=[py(2634), py(303)], anchor='x'),
    yaxis2=dict(y_common, domain=[py(2634), py(303)], anchor='x2', showticklabels=False),
)

annotations = []


def add_text(text, x, y, size, bold=False, xanchor='center', angle=0):
    annotations.append(dict(
        text=text, x=x, y=y, xref='paper', yref='paper', showarrow=False,
        xanchor=xanchor, yanchor='middle', textangle=angle,
        font=dict(family=FONT, size=round(size * S), color='black',
                  weight='bold' if bold else 'normal'),
    ))


# títulos dos painéis
add_text('WT-PETase', px(1957), py(160), 168, bold=True)
add_text('FAST-PETase', px(4894), py(160), 168, bold=True)
add_text('a', px(708), py(484), 168, bold=True, xanchor='left')
add_text('b', px(3645), py(484), 168, bold=True, xanchor='left')

# títulos dos eixos
add_text('Simulation time (ns)', px(1957), py(2975), 140)
add_text('Simulation time (ns)', px(4894), py(2975), 140)
add_text('Radius of gyration (nm)', px(118), py(1468), 140, angle=-90)

# legenda manual (2 linhas x 5 colunas)
legend_x = [875, 1849, 2823, 3797, 4771]
legend_y = [3228, 3386]
shapes = []
for row, (labs, cols) in enumerate([(labels_30, colors_30), (labels_50, colors_50)]):
    for c in range(5):
        x0 = legend_x[c]
        shapes.append(dict(
            type='line', xref='paper', yref='paper',
            x0=px(x0), x1=px(x0 + 243), y0=py(legend_y[row]), y1=py(legend_y[row]),
            line=dict(color=cols[c], width=20), opacity=ALPHA,
        ))
        add_text(labs[c], px(x0 + 322), py(legend_y[row]), 112, xanchor='left')

fig.update_layout(annotations=annotations, shapes=shapes)

fig.write_html('out.html')
